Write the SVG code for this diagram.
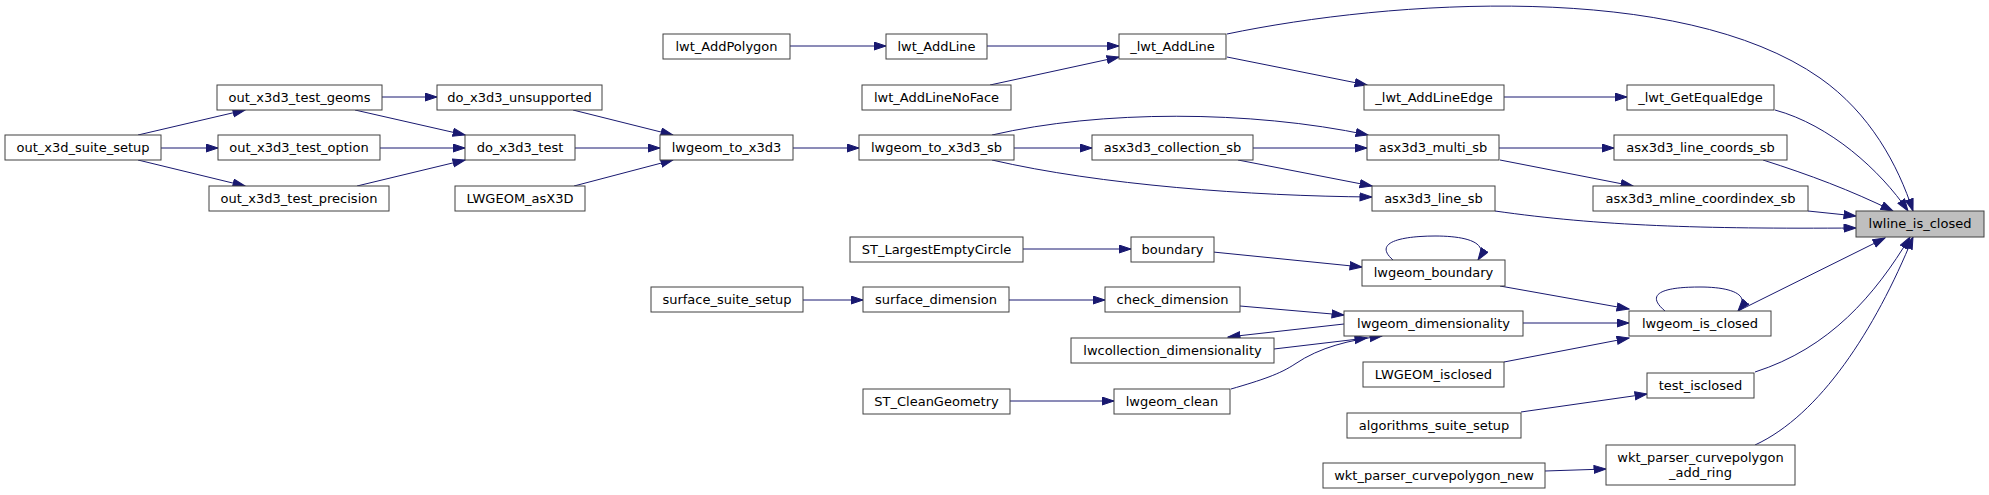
<svg xmlns="http://www.w3.org/2000/svg" width="1989" height="495" viewBox="0 0 1989 495">
<style>
.n rect{fill:#ffffff;stroke:#404040;stroke-width:1}
.n text{font-family:"DejaVu Sans","Liberation Sans",sans-serif;font-size:13px;fill:#000000;text-anchor:middle}
.root rect{fill:#bfbfbf}
.e path{fill:none;stroke:#191970;stroke-width:1;marker-end:url(#ah)}
</style>
<defs>
<marker id="ah" markerUnits="userSpaceOnUse" markerWidth="14" markerHeight="11" refX="12.5" refY="4.5" orient="auto">
<path d="M0.5,0.5 L12.5,4.5 L0.5,8.5 z" fill="#191970" stroke="#191970" stroke-width="1"/>
</marker>
</defs>
<rect width="1989" height="495" fill="#ffffff"/>
<g id="edges" class="e">
<path d="M138,135 L245,110"/>
<path d="M161,148 L218,148"/>
<path d="M138,160 L245,186"/>
<path d="M382,97 L437,97"/>
<path d="M355,110 L465,135"/>
<path d="M380,148 L465,148"/>
<path d="M357,186 L465,160"/>
<path d="M573,110 L673,135"/>
<path d="M575,148 L660,148"/>
<path d="M574,186 L673,160"/>
<path d="M793,148 L859,148"/>
<path d="M790,46 L886,46"/>
<path d="M987,46 L1119,46"/>
<path d="M990,85 L1119,57"/>
<path d="M1227,57 L1367,85"/>
<path d="M1227,34 C1390,0 1680,-20 1820,78 C1870,113 1898,165 1913,211"/>
<path d="M1504,97 L1627,97"/>
<path d="M1775,110 C1830,125 1880,170 1908,211"/>
<path d="M1014,148 L1092,148"/>
<path d="M992,135 C1100,110 1250,110 1368,135"/>
<path d="M992,160 C1100,185 1250,196 1372,197"/>
<path d="M1253,148 L1367,148"/>
<path d="M1238,160 L1372,186"/>
<path d="M1499,148 L1614,148"/>
<path d="M1500,160 L1633,186"/>
<path d="M1495,211 C1600,226 1700,229 1856,228"/>
<path d="M1763,160 C1810,175 1850,190 1893,211"/>
<path d="M1808,211 L1856,216"/>
<path d="M1023,249 L1131,249"/>
<path d="M1213,252 L1362,267"/>
<path d="M1393,260 C1370,240 1410,236 1435,236 C1465,236 1490,242 1478,260"/>
<path d="M1500,286 L1629,309"/>
<path d="M803,300 L863,300"/>
<path d="M1009,300 L1105,300"/>
<path d="M1240,306 L1344,315"/>
<path d="M1344,324 L1228,337"/>
<path d="M1274,349 L1367,338"/>
<path d="M1231,389 C1262,380 1280,374 1295,364 C1320,347 1350,340 1382,336"/>
<path d="M1010,401 L1114,401"/>
<path d="M1523,323 L1629,323"/>
<path d="M1504,362 L1629,338"/>
<path d="M1665,311 C1640,290 1675,287 1700,287 C1730,287 1752,294 1738,311"/>
<path d="M1738,311 L1885,238"/>
<path d="M1521,412 L1647,394"/>
<path d="M1755,372 C1830,348 1875,295 1910,237"/>
<path d="M1545,471 L1606,469"/>
<path d="M1755,445 C1820,415 1875,330 1913,237"/>
</g>
<g id="out_x3d_suite_setup" class="n"><rect x="5" y="135" width="156" height="25"/><text x="83" y="152">out_x3d_suite_setup</text></g>
<g id="out_x3d3_test_geoms" class="n"><rect x="217" y="85" width="165" height="25"/><text x="299.5" y="102">out_x3d3_test_geoms</text></g>
<g id="out_x3d3_test_option" class="n"><rect x="218" y="135" width="162" height="25"/><text x="299" y="152">out_x3d3_test_option</text></g>
<g id="out_x3d3_test_precision" class="n"><rect x="209" y="186" width="180" height="25"/><text x="299" y="203">out_x3d3_test_precision</text></g>
<g id="do_x3d3_unsupported" class="n"><rect x="437" y="85" width="165" height="25"/><text x="519.5" y="102">do_x3d3_unsupported</text></g>
<g id="do_x3d3_test" class="n"><rect x="465" y="135" width="110" height="25"/><text x="520" y="152">do_x3d3_test</text></g>
<g id="LWGEOM_asX3D" class="n"><rect x="455" y="186" width="130" height="25"/><text x="520" y="203">LWGEOM_asX3D</text></g>
<g id="lwt_AddPolygon" class="n"><rect x="663" y="34" width="127" height="25"/><text x="726.5" y="51">lwt_AddPolygon</text></g>
<g id="lwt_AddLine" class="n"><rect x="886" y="34" width="101" height="25"/><text x="936.5" y="51">lwt_AddLine</text></g>
<g id="lwt_AddLineNoFace" class="n"><rect x="862" y="85" width="149" height="25"/><text x="936.5" y="102">lwt_AddLineNoFace</text></g>
<g id="lwgeom_to_x3d3" class="n"><rect x="660" y="135" width="133" height="25"/><text x="726.5" y="152">lwgeom_to_x3d3</text></g>
<g id="lwgeom_to_x3d3_sb" class="n"><rect x="859" y="135" width="155" height="25"/><text x="936.5" y="152">lwgeom_to_x3d3_sb</text></g>
<g id="ST_LargestEmptyCircle" class="n"><rect x="850" y="237" width="173" height="25"/><text x="936.5" y="254">ST_LargestEmptyCircle</text></g>
<g id="surface_suite_setup" class="n"><rect x="651" y="287" width="152" height="25"/><text x="727" y="304">surface_suite_setup</text></g>
<g id="ST_CleanGeometry" class="n"><rect x="863" y="389" width="147" height="25"/><text x="936.5" y="406">ST_CleanGeometry</text></g>
<g id="surface_dimension" class="n"><rect x="863" y="287" width="146" height="25"/><text x="936" y="304">surface_dimension</text></g>
<g id="_lwt_AddLine" class="n"><rect x="1119" y="34" width="107" height="25"/><text x="1172.5" y="51">_lwt_AddLine</text></g>
<g id="_lwt_AddLineEdge" class="n"><rect x="1364" y="85" width="140" height="25"/><text x="1434" y="102">_lwt_AddLineEdge</text></g>
<g id="asx3d3_collection_sb" class="n"><rect x="1092" y="135" width="161" height="25"/><text x="1172.5" y="152">asx3d3_collection_sb</text></g>
<g id="asx3d3_multi_sb" class="n"><rect x="1367" y="135" width="132" height="25"/><text x="1433" y="152">asx3d3_multi_sb</text></g>
<g id="asx3d3_line_sb" class="n"><rect x="1372" y="186" width="123" height="25"/><text x="1433.5" y="203">asx3d3_line_sb</text></g>
<g id="boundary" class="n"><rect x="1131" y="237" width="83" height="25"/><text x="1172.5" y="254">boundary</text></g>
<g id="check_dimension" class="n"><rect x="1105" y="287" width="135" height="25"/><text x="1172.5" y="304">check_dimension</text></g>
<g id="lwcollection_dimensionality" class="n"><rect x="1071" y="338" width="203" height="25"/><text x="1172.5" y="355">lwcollection_dimensionality</text></g>
<g id="lwgeom_clean" class="n"><rect x="1114" y="389" width="116" height="25"/><text x="1172" y="406">lwgeom_clean</text></g>
<g id="lwgeom_boundary" class="n"><rect x="1362" y="260" width="143" height="26"/><text x="1433.5" y="277">lwgeom_boundary</text></g>
<g id="lwgeom_dimensionality" class="n"><rect x="1344" y="311" width="179" height="25"/><text x="1433.5" y="328">lwgeom_dimensionality</text></g>
<g id="LWGEOM_isclosed" class="n"><rect x="1363" y="362" width="141" height="25"/><text x="1433.5" y="379">LWGEOM_isclosed</text></g>
<g id="algorithms_suite_setup" class="n"><rect x="1347" y="413" width="174" height="25"/><text x="1434" y="430">algorithms_suite_setup</text></g>
<g id="wkt_parser_curvepolygon_new" class="n"><rect x="1323" y="463" width="222" height="25"/><text x="1434" y="480">wkt_parser_curvepolygon_new</text></g>
<g id="_lwt_GetEqualEdge" class="n"><rect x="1627" y="85" width="147" height="25"/><text x="1700.5" y="102">_lwt_GetEqualEdge</text></g>
<g id="asx3d3_line_coords_sb" class="n"><rect x="1614" y="135" width="173" height="25"/><text x="1700.5" y="152">asx3d3_line_coords_sb</text></g>
<g id="asx3d3_mline_coordindex_sb" class="n"><rect x="1593" y="186" width="215" height="25"/><text x="1700.5" y="203">asx3d3_mline_coordindex_sb</text></g>
<g id="lwgeom_is_closed" class="n"><rect x="1629" y="311" width="142" height="25"/><text x="1700" y="328">lwgeom_is_closed</text></g>
<g id="test_isclosed" class="n"><rect x="1647" y="373" width="107" height="25"/><text x="1700.5" y="390">test_isclosed</text></g>
<g id="wkt_parser_curvepolygon_add_ring" class="n"><rect x="1606" y="445" width="189" height="40"/><text x="1700.5" y="462">wkt_parser_curvepolygon</text><text x="1700.5" y="477">_add_ring</text></g>
<g id="lwline_is_closed" class="n root"><rect x="1856" y="211" width="128" height="26"/><text x="1920" y="228">lwline_is_closed</text></g>
</svg>
